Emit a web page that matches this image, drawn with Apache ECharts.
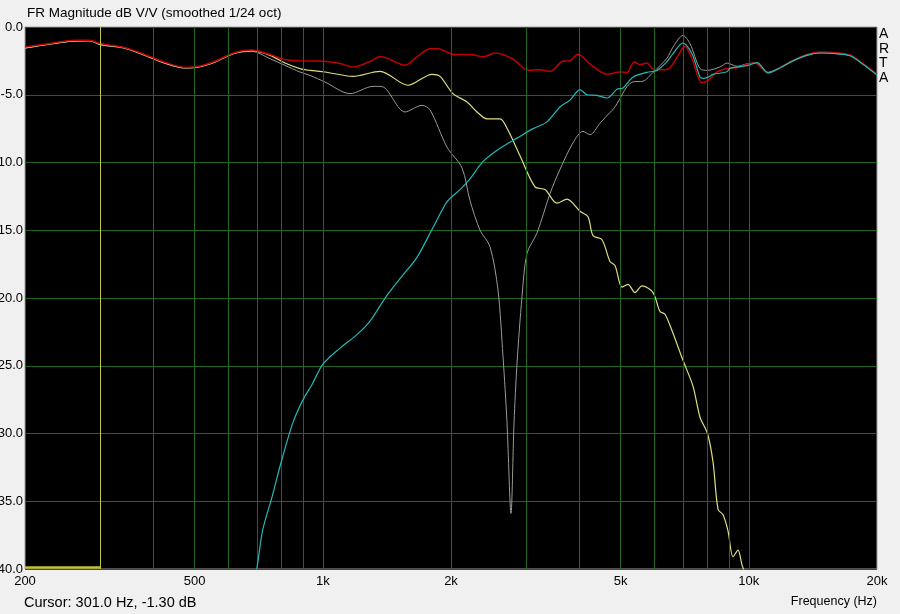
<!DOCTYPE html>
<html><head><meta charset="utf-8">
<script src="https://cdn.jsdelivr.net/npm/echarts@6/dist/echarts.min.js"></script>
<style>html,body{margin:0;padding:0;background:#f0f0f0;overflow:hidden;} #c{width:900px;height:614px;}</style>
</head><body><div id="c"></div>
<script>
// tick / grid values (Hz)
const xLabelValues = [200, 500, 1000, 2000, 5000, 10000, 20000];
const xGridValues = [300, 400, 500, 600, 700, 800, 900, 1000, 2000, 3000, 4000, 5000, 6000, 7000, 8000, 9000, 10000];
const cursorFreq = 301.0;
const cursorDb = -1.30;

// Summed response (red) [Hz, dB]
const sumData = [[200,-1.48],[229,-1.21],[262,-0.98],[284,-0.98],[300,-1.22],[343,-1.51],[393,-2.18],[426,-2.60],[475,-2.98],[515,-2.88],[558,-2.53],[622,-1.88],[682,-1.70],[752,-2.03],[815,-2.40],[884,-2.50],[985,-2.51],[1098,-2.70],[1178,-2.95],[1291,-2.55],[1363,-2.18],[1415,-2.30],[1560,-2.83],[1664,-2.20],[1786,-1.60],[1865,-1.60],[2022,-2.02],[2253,-2.05],[2377,-2.21],[2537,-1.92],[2796,-2.36],[3032,-3.20],[3236,-3.15],[3415,-3.28],[3644,-2.55],[3805,-2.48],[3973,-2.02],[4239,-2.74],[4647,-3.48],[5000,-3.33],[5178,-3.35],[5300,-2.85],[5380,-2.58],[5554,-2.78],[5769,-2.66],[5959,-3.10],[6290,-3.15],[6534,-3.00],[7000,-1.55],[7084,-1.43],[7357,-2.34],[7768,-4.12],[8024,-3.94],[8424,-3.32],[8892,-3.07],[9384,-3.00],[9904,-2.76],[10342,-2.66],[11096,-3.40],[11840,-3.00],[12702,-2.46],[13698,-2.02],[14696,-1.84],[15768,-1.88],[17286,-2.07],[18544,-2.70],[20000,-3.48]];

// Woofer / low-pass (yellow)
const wooferData = [[200,-1.55],[229,-1.25],[262,-1.02],[284,-1.00],[300,-1.28],[343,-1.55],[393,-2.22],[426,-2.65],[475,-3.02],[515,-2.92],[558,-2.57],[622,-1.92],[682,-1.75],[752,-2.09],[815,-2.66],[884,-3.07],[933,-3.20],[1012,-3.32],[1178,-3.64],[1363,-3.27],[1585,-4.30],[1805,-3.49],[1885,-3.64],[2022,-4.92],[2181,-5.53],[2302,-6.27],[2429,-6.78],[2606,-6.78],[2722,-7.62],[2904,-9.50],[3149,-11.8],[3324,-12.0],[3547,-13.0],[3744,-12.7],[4016,-13.6],[4194,-14.0],[4309,-15.4],[4524,-15.7],[4723,-17.3],[4853,-17.6],[5040,-19.2],[5206,-19.0],[5407,-19.6],[5615,-19.1],[5959,-19.6],[6189,-21.0],[6359,-21.2],[6640,-22.6],[7008,-24.6],[7397,-26.5],[7684,-28.8],[8000,-30.0],[8243,-32.1],[8470,-35.6],[8702,-36.0],[8940,-37.2],[9184,-39.1],[9435,-38.6],[9641,-39.7],[9797,-40.3],[10000,-41.0],[10500,-43.0]];

// Tweeter / high-pass (cyan)
const tweeterData = [[670,-43.0],[700,-40.0],[723,-37.1],[760,-34.7],[794,-32.4],[851,-29.2],[899,-27.5],[943,-26.4],[1000,-24.9],[1098,-23.7],[1203,-22.7],[1291,-21.7],[1415,-19.8],[1543,-18.3],[1664,-17.0],[1815,-14.8],[1957,-12.9],[2100,-12.0],[2216,-11.2],[2377,-9.94],[2606,-8.95],[2858,-8.20],[3116,-7.50],[3360,-7.00],[3606,-5.90],[3805,-5.40],[4016,-4.62],[4171,-5.00],[4403,-5.05],[4647,-5.24],[4906,-4.60],[5067,-4.50],[5349,-3.70],[5769,-3.35],[6090,-3.20],[6428,-2.56],[6640,-1.97],[7000,-1.18],[7357,-1.97],[7684,-3.69],[7810,-3.79],[8024,-3.70],[8243,-3.50],[8892,-3.30],[9037,-3.05],[9904,-2.85],[10454,-2.63],[11096,-3.37],[11840,-3.02],[12702,-2.50],[13698,-2.08],[14696,-1.92],[15768,-1.95],[17286,-2.12],[18544,-2.75],[20000,-3.55]];

// Reversed-polarity sum (gray)
const reverseData = [[200,-1.56],[229,-1.27],[262,-1.04],[284,-1.03],[300,-1.31],[343,-1.58],[393,-2.26],[426,-2.69],[475,-3.03],[515,-2.93],[558,-2.60],[622,-1.95],[682,-1.80],[752,-2.34],[815,-2.83],[884,-3.32],[933,-3.57],[1012,-4.06],[1159,-4.92],[1312,-4.38],[1378,-4.40],[1560,-6.27],[1710,-5.78],[1786,-6.12],[1957,-8.86],[2123,-10.4],[2216,-12.8],[2340,-15.0],[2469,-16.2],[2578,-19.4],[2649,-24.3],[2707,-29.2],[2766,-35.9],[2812,-29.2],[2858,-24.8],[2936,-19.9],[3016,-16.7],[3184,-15.2],[3415,-12.3],[3606,-10.5],[3867,-8.55],[4082,-7.70],[4239,-7.95],[4476,-7.10],[4723,-6.30],[4801,-6.10],[4906,-5.66],[5178,-4.40],[5349,-4.05],[5646,-4.00],[5959,-3.35],[6428,-2.30],[6640,-1.48],[7008,-0.62],[7278,-1.23],[7684,-3.07],[8000,-3.20],[8562,-2.95],[8892,-2.66],[9384,-2.90],[9904,-2.72],[10342,-2.66],[11096,-3.35],[11840,-3.00],[12702,-2.50],[13698,-2.10],[14696,-1.90],[15768,-1.95],[17286,-2.12],[18544,-2.75],[20000,-3.52]];

const FONT = 'Liberation Sans, Arial, sans-serif';
const GRID_COLOR = '#1f661f';
const CURSOR_COLOR = '#c4c848';
const chart = echarts.init(document.getElementById('c'), null, {renderer: 'canvas'});

function lineSeries(name, data, color, width, z) {
  return {
    name: name, type: 'line', data: data, symbol: 'none', showSymbol: false,
    smooth: 0.3, clip: true, z: z, silent: true,
    lineStyle: {color: color, width: width}
  };
}

// vertical frequency grid drawn as markLines through the x (log) axis
const gridSeries = {
  name: 'grid', type: 'line', data: [], z: 1, silent: true,
  markLine: {
    symbol: 'none', silent: true, animation: false, label: {show: false},
    emphasis: {disabled: true},
    lineStyle: {color: GRID_COLOR, width: 1, type: 'solid', opacity: 1},
    data: xGridValues.map(function (f) { return {xAxis: f}; })
  }
};

const cursorSeries = {
  name: 'cursor', type: 'line', data: [], z: 6, silent: true,
  markLine: {
    symbol: 'none', silent: true, animation: false, label: {show: false},
    emphasis: {disabled: true},
    lineStyle: {color: CURSOR_COLOR, width: 1, type: 'solid', opacity: 1},
    data: [
      {xAxis: cursorFreq},
      [{coord: [200, -39.85], lineStyle: {color: '#c0c030', width: 2.5, type: 'solid'}}, {coord: [cursorFreq, -39.85]}]
    ]
  }
};

const series = [
  gridSeries,
  lineSeries('reverse', reverseData, '#9a9a9a', 1, 2),
  lineSeries('woofer', wooferData, '#dede80', 1.2, 3),
  lineSeries('sum', sumData, '#c00000', 1.5, 4),
  lineSeries('tweeter', tweeterData, '#22b8b8', 1.2, 5),
  cursorSeries
];

chart.setOption({
  backgroundColor: '#f0f0f0',
  animation: false,
  title: {
    text: 'FR Magnitude dB V/V (smoothed 1/24 oct)', left: 27, top: 6, padding: 0,
    textStyle: {fontFamily: FONT, fontSize: 13.5, fontWeight: 'normal', color: '#000'}
  },
  grid: {left: 25, right: 23, top: 27, bottom: 45, containLabel: false, outerBoundsMode: 'none',
    show: true, backgroundColor: '#000', borderColor: '#a0a0a0', borderWidth: 1},
  xAxis: {
    type: 'log', logBase: 10, min: 200, max: 20000,
    axisLine: {show: false},
    axisTick: {show: false},
    splitLine: {show: false},
    axisLabel: {
      customValues: xLabelValues, margin: 6, fontFamily: FONT, fontSize: 13, color: '#000',
      formatter: function (v) { return v >= 1000 ? (Math.round(v / 1000)) + 'k' : String(Math.round(v)); }
    }
  },
  yAxis: {
    type: 'value', min: -40, max: 0, interval: 5,
    axisLine: {show: false}, axisTick: {show: false},
    splitLine: {show: true, lineStyle: {color: GRID_COLOR, width: 1}},
    axisLabel: {margin: 2, fontFamily: FONT, fontSize: 13, color: '#000', formatter: function (v) { return v.toFixed(1); }}
  },
  graphic: [
    {type: 'text', left: 879, top: 27, style: {text: 'A\nR\nT\nA', font: '14px ' + FONT, lineHeight: 14.5, fill: '#000'}},
    {type: 'text', left: 24, top: 595, style: {text: 'Cursor: ' + cursorFreq.toFixed(1) + ' Hz, ' + cursorDb.toFixed(2) + ' dB', font: '14.5px ' + FONT, fill: '#000'}},
    {type: 'text', right: 23, top: 595, style: {text: 'Frequency (Hz)', font: '12.5px ' + FONT, fill: '#000'}}
  ],
  series: series
});
</script></body></html>
